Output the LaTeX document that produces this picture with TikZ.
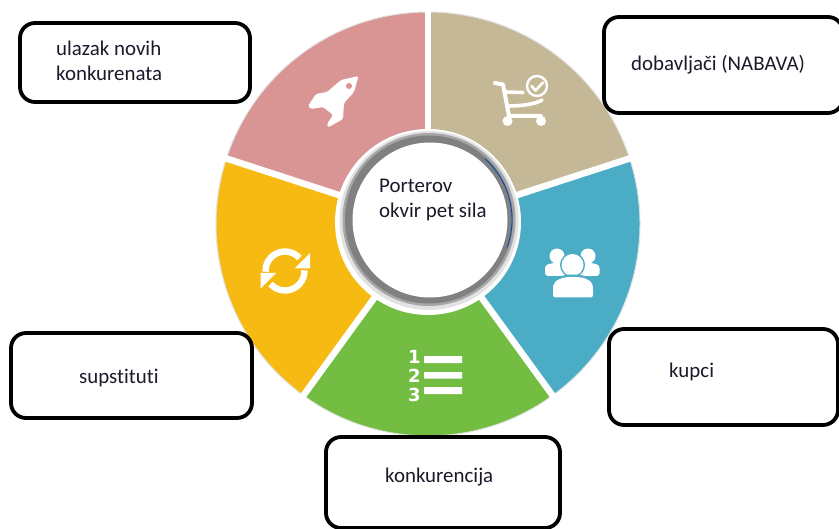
\documentclass[tikz,border=0pt]{standalone}
\usepackage{fontspec}
\setmainfont{Carlito}[Ligatures=NoCommon]
\newfontfamily\numfont{DejaVu Sans}
\usetikzlibrary{calc}
\definecolor{cpink}{HTML}{D99594}
\definecolor{ctan}{HTML}{C4B896}
\definecolor{cblue}{HTML}{4BACC6}
\definecolor{cgold}{HTML}{F7BA12}
\definecolor{cgreen}{HTML}{74BD43}
\definecolor{cedge}{HTML}{E2E2E2}
\definecolor{cgapgray}{HTML}{D9D9D9}
\definecolor{ctxt}{HTML}{1A1A2A}
\tikzset{
  sector/.style={draw=cedge,line width=1bp},
  labelbox/.style={draw=black,fill=white,line width=3.8bp,rounded corners=15bp},
  label text/.style={anchor=base west,inner sep=0pt,text=ctxt,font=\fontsize{20.9bp}{24bp}\selectfont},
  icon/.style={fill=white,draw=none},
  iconline/.style={draw=white,line cap=round,line join=round},
  digit/.style={text=white,inner sep=0pt,font=\numfont\bfseries\fontsize{18bp}{20bp}\selectfont},
}
\begin{document}
\begin{tikzpicture}[x=1bp,y=-1bp]
\useasboundingbox (0,0) rectangle (839,529);
\fill[white] (0,0) rectangle (839,529);
\coordinate (C) at (428,224);
% sectors
\foreach \a/\b/\c in {-90/-18/ctan,-18/54/cblue,54/126/cgreen,126/198/cgold,198/270/cpink}{
  \path[sector,fill=\c] (C) -- ($(C)+(\a:212)$) arc[start angle=\a,end angle=\b,radius=212] -- cycle;
}
% separating gaps
\foreach \a/\s in {-90/-3,-18/-3.5,54/-3.5,126/3,198/3.5}{
  \draw[cgapgray,line width=3.5bp,shift={(\a+90:\s)}] (C) -- ($(C)+(\a:213)$);
  \draw[white,line width=6.5bp,shift={(\a+90:-\s*0.35)}] (C) -- ($(C)+(\a:216)$);
}
% hub
\fill[white] (428,222) circle[radius=93];
\fill[cedge] (429,220.5) circle[radius=89.5];
\fill[black!35] (429,219.5) circle[radius=86.5];
\fill[black!50] (429,219.5) circle[radius=84];
\draw[blue!60!cyan!70!black,line width=.8bp] (430,219.5) ++(-48:82) arc[start angle=-48,end angle=20,radius=82];
\fill[white] (430,220) circle[radius=77.5];
\node[label text] (hub1) at (379,193) {Porterov};
\node[label text] (hub2) at (379,218) {okvir pet sila};
% rocket
\fill[icon,rounded corners=1.5bp] (358.5,76) -- (341,80) -- (327,92) -- (316,94) -- (308,106) -- (311,109) -- (323,107)
  -- (333,115) -- (327,124) -- (328,127.5) -- (343,119) -- (344,103) -- (354,92) -- cycle;
\fill[cpink] (349,86) circle[radius=3];
% cart
\draw[iconline,line width=4bp] (495,83) -- (503,84.5) -- (509,116) -- (541,116);
\draw[iconline,line width=3.6bp] (505,92) -- (523,92.5);
\draw[iconline,line width=3.6bp] (508,106) .. controls (522,106) and (536,104) .. (542,100);
\fill[icon] (507.5,121) circle[radius=5] (541,121) circle[radius=5];
\draw[white,line width=2.4bp] (537,86) circle[radius=10];
\draw[iconline,line width=2.6bp] (531.5,86) -- (535.5,90.5) -- (543,82.5);
% people
\fill[icon] (557,256) circle[radius=7.5] (588,256) circle[radius=7.5];
\fill[icon,rounded corners=3bp] (545,276) -- (545,265) -- (558,262) -- (570,268) -- (570,276) -- cycle;
\fill[icon,rounded corners=3bp] (599.5,276) -- (599.5,265) -- (587,262) -- (575,268) -- (575,276) -- cycle;
\fill[cblue] (572.5,265) circle[radius=12.5];
\fill[icon] (572.5,265) circle[radius=11];
\fill[cblue] (550.5,300) -- (550.5,288) .. controls (551,278) and (562,274.5) .. (573,274.5) .. controls (584,274.5) and (595,278) .. (595.5,288) -- (595.5,300) -- cycle;
\fill[icon,rounded corners=2.5bp] (553,297.5) -- (553,288) .. controls (554,280) and (563,277) .. (573,277) .. controls (583,277) and (592,280) .. (593,288) -- (593,297.5) -- cycle;
% sync
\draw[white,line width=6.4bp] (285,271) ++(178:19.5) arc[start angle=178,end angle=318,radius=19.5];
\fill[icon] (310,253) -- (310,268.5) -- (294.5,268.5) -- cycle;
\draw[white,line width=6.4bp] (285,271) ++(-2:19.5) arc[start angle=-2,end angle=138,radius=19.5];
\fill[icon] (260.5,273) -- (260.5,288.5) -- (276,273) -- cycle;
% list
\fill[icon] (424,356) rectangle (462,363) (424,372) rectangle (462,378.5) (424,387) rectangle (462,394);
\node[digit] (n1) at (414.5,357) {1};
\node[digit] (n2) at (414.5,376) {2};
\node[digit] (n3) at (414.5,395) {3};
% label boxes
\path[labelbox] (20,23) rectangle (250,102);
\node[label text] (t1) at (56,56) {ulazak novih};
\node[label text] (t2) at (56,81) {konkurenata};
\path[labelbox] (604,17) rectangle (843,113);
\node[label text] (t3) at (631,71) {dobavljači (NABAVA)};
\path[labelbox] (609,329) rectangle (838,425);
\node[label text] (t4) at (669,377) {kupci};
\path[labelbox] (326,437) rectangle (560,528);
\node[label text] (t5) at (385,482) {konkurencija};
\path[labelbox] (11,333) rectangle (252,418);
\node[label text] (t6) at (79,383) {supstituti};
\end{tikzpicture}
\end{document}
